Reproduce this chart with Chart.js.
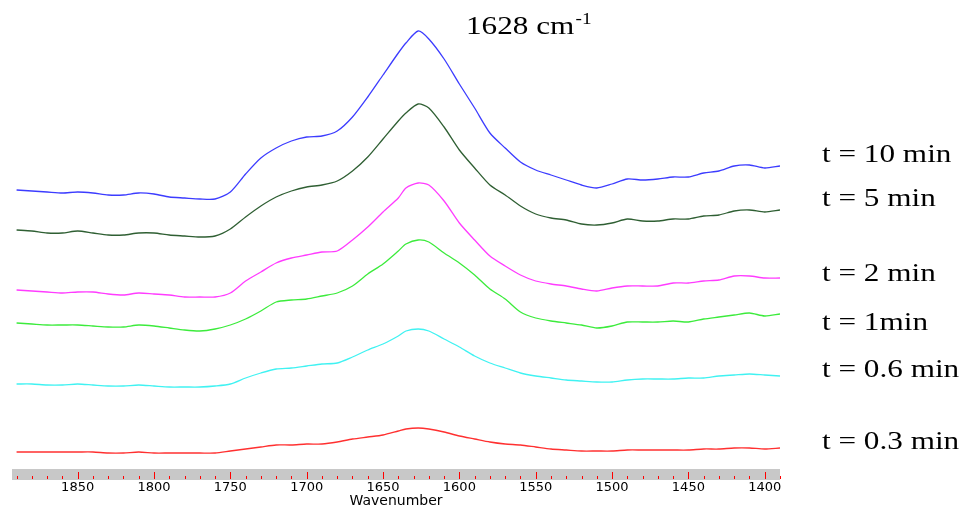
<!DOCTYPE html>
<html>
<head>
<meta charset="utf-8">
<title>FTIR spectra</title>
<script src="https://cdn.jsdelivr.net/npm/chart.js@4.4.1/dist/chart.umd.min.js"></script>
<style>
  html, body { margin: 0; padding: 0; background: #fff; }
  #wrap { width: 967px; height: 510px; }
</style>
</head>
<body>
<div id="wrap"><canvas id="spectra"></canvas></div>
<script>
// wavenumber grid (cm-1), extra point at the 1628 band maximum
const wavenumbers = [1890, 1880, 1870, 1860, 1850, 1840, 1830, 1820, 1810, 1800,
  1790, 1780, 1770, 1760, 1750, 1740, 1730, 1720, 1710, 1700,
  1690, 1680, 1670, 1660, 1650, 1640, 1635, 1627,
  1620, 1610, 1600, 1590, 1580, 1570, 1560, 1550, 1540, 1530,
  1520, 1510, 1500, 1490, 1480, 1470, 1460, 1450, 1440, 1430,
  1420, 1410, 1400, 1390];

// absorbance, spectra offset vertically (arb. units)
const t10 = [2.79, 2.78, 2.77, 2.76, 2.77, 2.76, 2.74, 2.74, 2.76, 2.75,
  2.72, 2.71, 2.70, 2.70, 2.77, 2.95, 3.11, 3.21, 3.28, 3.32,
  3.33, 3.38, 3.52, 3.72, 3.94, 4.16, 4.26, 4.38,
  4.30, 4.10, 3.85, 3.61, 3.36, 3.21, 3.07, 2.99, 2.94, 2.89,
  2.84, 2.81, 2.85, 2.90, 2.89, 2.90, 2.92, 2.92, 2.96, 2.98,
  3.03, 3.04, 3.01, 3.03];
const t5 = [2.39, 2.38, 2.36, 2.36, 2.38, 2.36, 2.34, 2.34, 2.36, 2.36,
  2.34, 2.33, 2.32, 2.33, 2.40, 2.52, 2.63, 2.72, 2.78, 2.82,
  2.84, 2.88, 2.98, 3.12, 3.30, 3.48, 3.56, 3.65,
  3.61, 3.42, 3.19, 3.01, 2.84, 2.74, 2.63, 2.55, 2.51, 2.49,
  2.45, 2.44, 2.46, 2.50, 2.48, 2.48, 2.50, 2.50, 2.53, 2.54,
  2.58, 2.59, 2.57, 2.59];
const t2 = [1.79, 1.78, 1.77, 1.76, 1.77, 1.77, 1.75, 1.74, 1.76, 1.75,
  1.74, 1.72, 1.72, 1.72, 1.76, 1.88, 1.97, 2.06, 2.11, 2.14,
  2.17, 2.18, 2.29, 2.42, 2.57, 2.71, 2.81, 2.86,
  2.84, 2.68, 2.46, 2.29, 2.13, 2.03, 1.94, 1.88, 1.85, 1.83,
  1.80, 1.78, 1.81, 1.83, 1.83, 1.83, 1.86, 1.86, 1.88, 1.89,
  1.93, 1.93, 1.91, 1.91];
const t1 = [1.46, 1.45, 1.44, 1.44, 1.44, 1.43, 1.42, 1.42, 1.44, 1.43,
  1.41, 1.39, 1.38, 1.40, 1.44, 1.50, 1.58, 1.67, 1.69, 1.70,
  1.73, 1.76, 1.83, 1.95, 2.05, 2.18, 2.25, 2.29,
  2.27, 2.16, 2.06, 1.94, 1.80, 1.70, 1.57, 1.51, 1.48, 1.46,
  1.44, 1.41, 1.43, 1.47, 1.47, 1.47, 1.48, 1.47, 1.50, 1.52,
  1.54, 1.56, 1.53, 1.55];
const t06 = [0.85, 0.85, 0.84, 0.84, 0.85, 0.84, 0.83, 0.83, 0.84, 0.83,
  0.82, 0.82, 0.82, 0.83, 0.85, 0.91, 0.96, 1.00, 1.01, 1.03,
  1.05, 1.06, 1.12, 1.19, 1.25, 1.33, 1.38, 1.40,
  1.38, 1.30, 1.22, 1.13, 1.06, 1.01, 0.96, 0.93, 0.91, 0.89,
  0.88, 0.87, 0.87, 0.89, 0.90, 0.90, 0.90, 0.91, 0.91, 0.93,
  0.94, 0.95, 0.94, 0.93];
const t03 = [0.17, 0.17, 0.17, 0.17, 0.17, 0.17, 0.16, 0.16, 0.17, 0.16,
  0.16, 0.16, 0.16, 0.16, 0.18, 0.20, 0.22, 0.24, 0.24, 0.25,
  0.25, 0.27, 0.30, 0.32, 0.34, 0.38, 0.40, 0.41,
  0.40, 0.37, 0.33, 0.30, 0.27, 0.25, 0.24, 0.22, 0.20, 0.19,
  0.18, 0.18, 0.18, 0.19, 0.19, 0.19, 0.19, 0.19, 0.20, 0.20,
  0.21, 0.21, 0.20, 0.21];

const timeLabels = ['t = 10 min', 't = 5 min', 't = 2 min', 't = 1min', 't = 0.6 min', 't = 0.3 min'];
const peakLabel = '1628 cm';
const peakSup = '-1';

const series = [t10, t5, t2, t1, t06, t03];
const colors = ['#3c3cff', '#2f5f33', '#ff3cff', '#3ceb3c', '#40f2f2', '#ff3030'];

function toPoints(vals) {
  return vals.map((v, i) => ({ x: wavenumbers[i], y: v }));
}

// grey strip under the plot with red ticks every 10 cm-1 (taller every 50)
const axisStrip = {
  id: 'axisStrip',
  afterDraw(chart) {
    const { ctx, chartArea, scales } = chart;
    const x = scales.x;
    const top = chartArea.bottom;
    ctx.save();
    ctx.fillStyle = '#c8c8c8';
    ctx.fillRect(chartArea.left, top, chartArea.right - chartArea.left, 11);
    ctx.strokeStyle = '#ff0000';
    ctx.lineWidth = 1;
    for (let w = 1390; w <= 1890; w += 10) {
      const px = Math.round(x.getPixelForValue(w)) + 0.5;
      const len = w % 50 === 0 ? 7 : 3;
      ctx.beginPath();
      ctx.moveTo(px, top + 10);
      ctx.lineTo(px, top + 10 - len);
      ctx.stroke();
    }
    ctx.restore();
  }
};

// serif captions, slightly stretched horizontally
const captions = {
  id: 'captions',
  afterDraw(chart) {
    const ctx = chart.ctx;
    const sx = 1.2;
    const baselines = [162, 206, 281, 330, 377, 449];
    ctx.save();
    ctx.fillStyle = '#000';
    ctx.textBaseline = 'alphabetic';
    ctx.textAlign = 'left';
    ctx.font = '26px "Liberation Serif", "Times New Roman", serif';
    timeLabels.forEach((txt, i) => {
      ctx.save();
      ctx.translate(822, baselines[i]);
      ctx.scale(sx, 1);
      ctx.fillText(txt, 0, 0);
      ctx.restore();
    });

    ctx.save();
    ctx.translate(466, 34);
    ctx.scale(sx, 1);
    ctx.fillText(peakLabel, 0, 0);
    const w = ctx.measureText(peakLabel).width;
    ctx.font = '16px "Liberation Serif", "Times New Roman", serif';
    ctx.fillText(peakSup, w + 1, -10);
    ctx.restore();
    ctx.restore();
  }
};

new Chart(document.getElementById('spectra'), {
  type: 'line',
  data: {
    datasets: series.map((s, i) => ({
      label: timeLabels[i],
      data: toPoints(s),
      borderColor: colors[i],
      borderWidth: 1.3,
      pointRadius: 0,
      tension: 0.25,
      fill: false
    }))
  },
  options: {
    responsive: true,
    maintainAspectRatio: false,
    animation: false,
    events: [],
    layout: { padding: { left: 12, right: 187, top: 0, bottom: 0 } },
    plugins: { legend: { display: false }, tooltip: { enabled: false } },
    scales: {
      x: {
        type: 'linear',
        reverse: true,
        min: 1390,
        max: 1893,
        grid: { display: false, drawTicks: false },
        border: { display: false },
        afterFit(axis) { axis.height = 41; },
        ticks: {
          stepSize: 50,
          includeBounds: false,
          padding: 11,
          color: '#000',
          maxRotation: 0,
          font: { family: '"DejaVu Sans", sans-serif', size: 13 },
          callback: (v) => String(v)
        },
        title: {
          display: true,
          text: 'Wavenumber',
          color: '#000',
          padding: { top: 0, bottom: 0 },
          font: { family: '"DejaVu Sans", sans-serif', size: 14 }
        }
      },
      y: {
        display: false,
        min: 0,
        max: 4.69
      }
    }
  },
  plugins: [axisStrip, captions]
});
</script>
</body>
</html>
